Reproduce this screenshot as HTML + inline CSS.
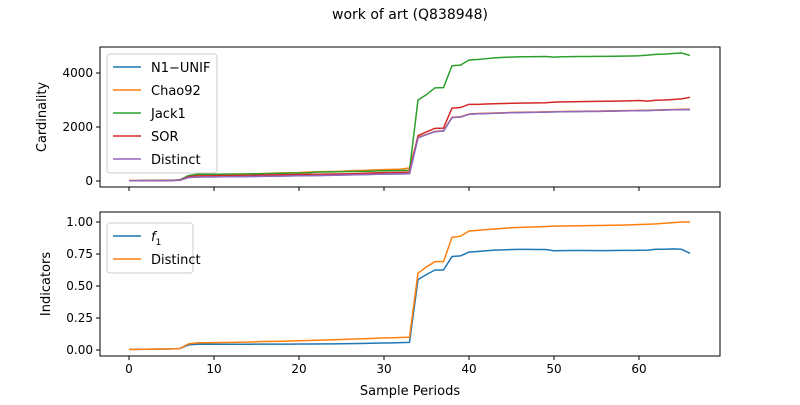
<!DOCTYPE html>
<html><head><meta charset="utf-8"><style>body{margin:0;background:#fff}svg{font-family:"DejaVu Sans","Liberation Sans",sans-serif}</style></head>
<body>
<svg id="c" width="800" height="400" xmlns="http://www.w3.org/2000/svg">
<rect width="800" height="400" fill="#fff"/>
<text x="410" y="19" font-size="14" text-anchor="middle">work of art (Q838948)</text>
</svg>
<script>
const periods = Array.from({length:67},(_,i)=>i);
const distinctTop = [10,10,12,14,16,18,30,130,150,152,155,158,160,163,166,170,175,180,185,190,195,200,205,210,215,220,228,235,240,248,255,260,265,270,1600,1720,1830,1850,2350,2370,2470,2490,2500,2510,2520,2530,2535,2540,2545,2550,2560,2565,2570,2575,2578,2580,2585,2590,2595,2600,2605,2610,2620,2630,2640,2645,2650];
const n1Unif = [10,10,12,14,16,18,30,130,150,152,155,158,160,163,166,170,175,180,185,190,195,200,205,210,215,220,228,235,240,248,255,260,265,270,1600,1720,1830,1850,2350,2370,2470,2490,2500,2510,2520,2530,2535,2540,2545,2550,2560,2565,2570,2575,2578,2580,2585,2590,2595,2600,2605,2610,2620,2630,2640,2645,2650];
const chao92 = [12,12,14,16,18,20,40,190,230,235,240,245,250,255,262,270,280,290,300,305,310,330,340,345,350,360,380,390,400,410,420,430,440,480,1620,1730,1840,1860,2360,2380,2480,2500,2510,2520,2530,2540,2545,2550,2555,2560,2570,2575,2580,2585,2588,2590,2595,2600,2605,2610,2615,2620,2630,2640,2650,2655,2660];
const jack1 = [15,15,18,20,22,25,45,200,250,250,252,255,258,260,265,270,275,280,285,290,295,300,330,335,340,345,350,355,360,370,380,385,390,400,3000,3200,3450,3460,4270,4290,4480,4500,4530,4560,4580,4590,4600,4600,4605,4610,4590,4600,4605,4610,4610,4615,4615,4620,4625,4630,4640,4660,4690,4700,4720,4740,4650];
const sor = [12,12,14,16,18,20,35,160,190,192,195,198,200,205,210,215,220,225,230,235,240,245,250,255,260,265,270,280,290,300,310,315,320,330,1680,1820,1950,1960,2700,2720,2840,2840,2850,2860,2870,2880,2885,2890,2895,2900,2920,2930,2935,2940,2945,2950,2955,2960,2965,2970,2980,2960,2990,3000,3020,3040,3100];
const f1 = [0.005,0.005,0.006,0.007,0.008,0.009,0.012,0.04,0.045,0.045,0.045,0.045,0.045,0.045,0.045,0.046,0.046,0.046,0.046,0.046,0.047,0.047,0.047,0.048,0.048,0.049,0.05,0.051,0.052,0.054,0.055,0.056,0.058,0.06,0.55,0.59,0.625,0.625,0.73,0.735,0.765,0.77,0.775,0.78,0.782,0.785,0.786,0.786,0.785,0.785,0.775,0.776,0.777,0.777,0.777,0.776,0.776,0.777,0.778,0.778,0.779,0.78,0.787,0.787,0.79,0.787,0.755];
const distinctNorm = [0.005,0.005,0.006,0.007,0.008,0.009,0.012,0.048,0.056,0.057,0.058,0.059,0.06,0.061,0.062,0.064,0.066,0.067,0.068,0.07,0.072,0.074,0.076,0.078,0.08,0.082,0.085,0.087,0.089,0.092,0.094,0.096,0.098,0.1,0.6,0.65,0.69,0.69,0.88,0.89,0.93,0.935,0.94,0.945,0.95,0.955,0.958,0.96,0.962,0.965,0.968,0.969,0.97,0.971,0.972,0.973,0.974,0.975,0.976,0.978,0.98,0.982,0.985,0.99,0.995,1,1];
const xTicks = [0,10,20,30,40,50,60];
const yTicksTop = [0,2000,4000];
const yTicksBot = [0,0.25,0.5,0.75,1.0];
const yTickLabelsBot = ["0.00","0.25","0.50","0.75","1.00"];

const svg = document.getElementById('c');
const NS = 'http://www.w3.org/2000/svg';
function mk(t,a){const e=document.createElementNS(NS,t);for(const k in a)e.setAttribute(k,a[k]);svg.appendChild(e);return e;}
const X0=100,X1=720;
const xs = v => 129 + (v-0)*(639-129)/60;
const ysTop = v => 181 - v*0.027;
const ysBot = v => 350 - v*128;

function axes(top,bot,ys,ticks,labels,name,showX){
  const r=mk('rect',{x:X0,y:top,width:X1-X0,height:bot-top,fill:'none',stroke:'#000','stroke-width':1});
  
  
  ticks.forEach((t,i)=>{
    const y=ys(t);
    mk('line',{x1:X0-4,x2:X0,y1:y,y2:y,stroke:'#000'});
    const tx=mk('text',{x:X0-7,y:y+4,'font-size':12,'text-anchor':'end'});
    tx.textContent=labels[i];
    
    
  });
  xTicks.forEach(t=>{
    mk('line',{x1:xs(t),x2:xs(t),y1:bot,y2:bot+4,stroke:'#000'});
    if(showX){const tx=mk('text',{x:xs(t),y:bot+17,'font-size':12,'text-anchor':'middle'});tx.textContent=t;
      
      }
  });
}
function line(data,ys,color,name){
  const p=mk('polyline',{points:data.map((v,i)=>xs(periods[i])+','+ys(v)).join(' '),fill:'none',stroke:color,'stroke-width':1.5,'stroke-linejoin':'round'});
  
  
}
axes(47,187,ysTop,yTicksTop,yTicksTop.map(String),'top',false);
axes(212,356,ysBot,yTicksBot,yTickLabelsBot,'bottom',true);
line(n1Unif,ysTop,'#1f77b4','n1-unif-line');
line(chao92,ysTop,'#ff7f0e','chao92-line');
line(jack1,ysTop,'#2ca02c','jack1-line');
line(sor,ysTop,'#d62728','sor-line');
line(distinctTop,ysTop,'#9467bd','distinct-line');
line(f1,ysBot,'#1f77b4','f1-line');
line(distinctNorm,ysBot,'#ff7f0e','distinct-norm-line');

function legend(x,y,w,items,name){
  const b=mk('rect',{x:x,y:y,width:w,height:items.length*23+4,fill:'#fff','fill-opacity':0.8,stroke:'#ccc',rx:3});
  
  
  items.forEach((it,i)=>{
    const cy=y+13+i*23;
    mk('line',{x1:x+6,x2:x+34,y1:cy,y2:cy,stroke:it[1],'stroke-width':1.5});
    const t=mk('text',{x:x+44,y:cy+5,'font-size':13});
    if(it[0]==='f1'){t.innerHTML='<tspan font-style="italic">f</tspan><tspan font-size="9" dy="4">1</tspan>';}
    else t.textContent=it[0];
    
    
  });
}
legend(107,54,110,[['N1\u2212UNIF','#1f77b4'],['Chao92','#ff7f0e'],['Jack1','#2ca02c'],['SOR','#d62728'],['Distinct','#9467bd']],'top-legend');
legend(107,223,86,[['f1','#1f77b4'],['Distinct','#ff7f0e']],'bottom-legend');

const yl1=mk('text',{x:0,y:0,'font-size':13,'text-anchor':'middle',transform:'translate(46,117) rotate(-90)'});yl1.textContent='Cardinality';


const yl2=mk('text',{x:0,y:0,'font-size':13,'text-anchor':'middle',transform:'translate(50,284) rotate(-90)'});yl2.textContent='Indicators';


const xl=mk('text',{x:410,y:395,'font-size':13,'text-anchor':'middle'});xl.textContent='Sample Periods';


</script>
</body></html>
